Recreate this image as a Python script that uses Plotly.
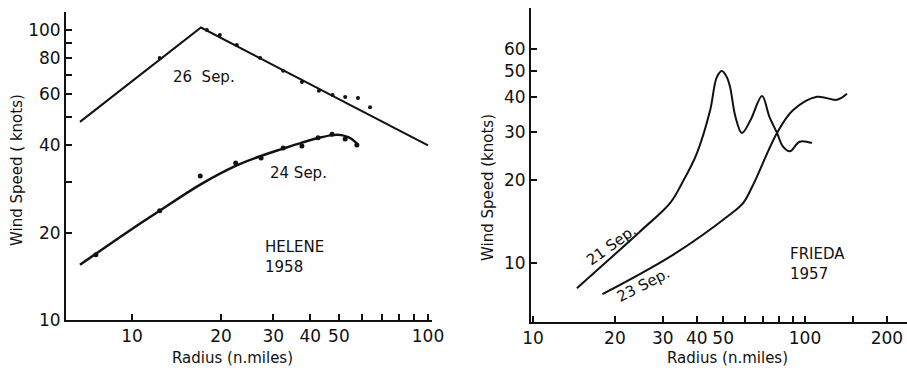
import math
import plotly.graph_objects as go

# ---------------- data: HELENE 1958 (left panel) ----------------
sep26_line_r = [6.67, 17.1, 100]
sep26_line_v = [48.2, 102, 40]
sep26_pts_r = [12.4, 17.9, 19.8, 22.6, 27.1, 32.4, 37.5, 42.8, 47.6, 52.5, 58, 63.7]
sep26_pts_v = [80, 100, 96, 88.7, 80, 72.3, 66.2, 61.7, 59.7, 58.7, 58.3, 54.2]

sep24_curve_r = [6.67, 10, 12.4, 17, 22.4, 27.3, 32.4, 37.5, 42.5, 47.5, 51, 54, 56.5, 58]
sep24_curve_v = [15.5, 20.6, 23.8, 29.3, 34.0, 36.8, 39.0, 40.9, 42.4, 43.4, 43.4, 42.6, 41.3, 40.1]
sep24_pts_r = [7.55, 12.4, 17, 22.4, 27.3, 32.4, 37.5, 42.5, 47.4, 52.5, 57.5]
sep24_pts_v = [16.8, 23.8, 31.4, 34.8, 36.2, 39.2, 39.8, 42.5, 43.7, 42.1, 40.1]

# ---------------- data: FRIEDA 1957 (right panel) ----------------
sep21_r = [14.5, 24.7, 31.9, 35.3, 40, 44.8, 47.4, 49.5, 51.5, 53, 55.5, 58.6, 63, 69.5, 74, 78.9, 83, 88, 95.6, 106]
sep21_v = [8.1, 13.0, 16.5, 19.5, 25, 35.9, 47.4, 49.9, 47.5, 43.7, 34, 29.7, 33, 40.5, 34, 29.7, 26.5, 25.5, 27.6, 27.3]
sep23_r = [18, 32.7, 53, 59.2, 64.4, 78.9, 90.3, 110.6, 131, 142.6]
sep23_v = [7.7, 10.7, 15.0, 16.5, 19.2, 29.7, 35.9, 40.2, 39.2, 41.2]

# ---------------- ticks ----------------
l_xtick_vals = [10, 20, 30, 40, 50, 60, 70, 80, 90, 100]
l_xtick_text = ["10", "20", "30", "40", "50", "", "", "", "", "100"]
l_ytick_vals = [10, 20, 30, 40, 50, 60, 70, 80, 90, 100]
l_ytick_text = ["10", "20", "", "40", "", "60", "", "80", "", "100"]
r_xtick_vals = [10, 20, 30, 40, 50, 60, 70, 80, 90, 100, 150, 200]
r_xtick_text = ["10", "20", "30", "40", "50", "", "", "", "", "100", "", "200"]
r_ytick_vals = [10, 20, 30, 40, 50, 60]
r_ytick_text = ["10", "20", "30", "40", "50", "60"]

FONT = "DejaVu Sans"
INK = "#111111"
W, H = 907, 370

fig = go.Figure()
line = dict(color=INK, width=2)
fig.add_trace(go.Scatter(x=sep26_line_r, y=sep26_line_v, mode="lines", line=line, xaxis="x", yaxis="y"))
fig.add_trace(go.Scatter(x=sep26_pts_r, y=sep26_pts_v, mode="markers", marker=dict(color=INK, size=4), xaxis="x", yaxis="y"))
fig.add_trace(go.Scatter(x=sep24_curve_r, y=sep24_curve_v, mode="lines", line=dict(color=INK, width=2.5, shape="spline"), xaxis="x", yaxis="y"))
fig.add_trace(go.Scatter(x=sep24_pts_r, y=sep24_pts_v, mode="markers", marker=dict(color=INK, size=5), xaxis="x", yaxis="y"))
fig.add_trace(go.Scatter(x=sep21_r, y=sep21_v, mode="lines", line=dict(color=INK, width=2, shape="spline"), xaxis="x2", yaxis="y2"))
fig.add_trace(go.Scatter(x=sep23_r, y=sep23_v, mode="lines", line=dict(color=INK, width=2, shape="spline"), xaxis="x2", yaxis="y2"))

tickfont = dict(family=FONT, size=17, color=INK)
common = dict(type="log", showgrid=False, zeroline=False, showline=True, linecolor=INK, linewidth=2,
              ticks="inside", ticklen=6, tickwidth=1.5, tickcolor=INK, tickmode="array",
              tickfont=tickfont, automargin=False, mirror=False)

fig.update_layout(
    width=W, height=H, margin=dict(l=0, r=0, t=0, b=0),
    paper_bgcolor="white", plot_bgcolor="white", showlegend=False,
    xaxis=dict(common, domain=[66 / W, 432 / W], range=[0.777, 2.0135], anchor="y",
               tickvals=l_xtick_vals, ticktext=l_xtick_text),
    yaxis=dict(common, domain=[50 / H, 358 / H], range=[1.0, 2.062], anchor="x",
               tickvals=l_ytick_vals, ticktext=l_ytick_text),
    xaxis2=dict(common, domain=[531 / W, 1.0], range=[0.9926, 2.375], anchor="y2",
                tickvals=r_xtick_vals, ticktext=r_xtick_text),
    yaxis2=dict(common, domain=[48 / H, 362 / H], range=[0.7855, 1.927], anchor="x2",
                tickvals=r_ytick_vals, ticktext=r_ytick_text),
)

tfont = dict(family=FONT, size=15, color=INK)
anns = [
    dict(text="Wind Speed ( knots)", x=17 / W, y=1 - 170 / H, xref="paper", yref="paper", textangle=-90, font=tfont),
    dict(text="Wind Speed (knots)", x=488 / W, y=1 - 187 / H, xref="paper", yref="paper", textangle=-90, font=tfont),
    dict(text="Radius (n.miles)", x=232 / W, y=1 - 358 / H, xref="paper", yref="paper", font=tfont),
    dict(text="Radius (n.miles)", x=727 / W, y=1 - 358 / H, xref="paper", yref="paper", font=tfont),
    dict(text="26  Sep.", x=math.log10(17.5), y=math.log10(68.8), xref="x", yref="y", font=tfont),
    dict(text="24 Sep.", x=math.log10(36.4), y=math.log10(32.1), xref="x", yref="y", font=tfont),
    dict(text="HELENE<br>1958", x=math.log10(27.7), y=math.log10(16.5), xref="x", yref="y",
         xanchor="left", align="left", font=tfont),
    dict(text="21 Sep.", x=math.log10(19.5), y=math.log10(11.6), xref="x2", yref="y2", textangle=-36, font=tfont),
    dict(text="23 Sep.", x=math.log10(25.4), y=math.log10(8.3), xref="x2", yref="y2", textangle=-27, font=tfont),
    dict(text="FRIEDA<br>1957", x=math.log10(86.6), y=math.log10(9.9), xref="x2", yref="y2",
         xanchor="left", align="left", font=tfont),
]
for a in anns:
    a["showarrow"] = False
    a.setdefault("xanchor", "center")
    a.setdefault("yanchor", "middle")
fig.update_layout(annotations=anns)

fig.write_html("out.html")
